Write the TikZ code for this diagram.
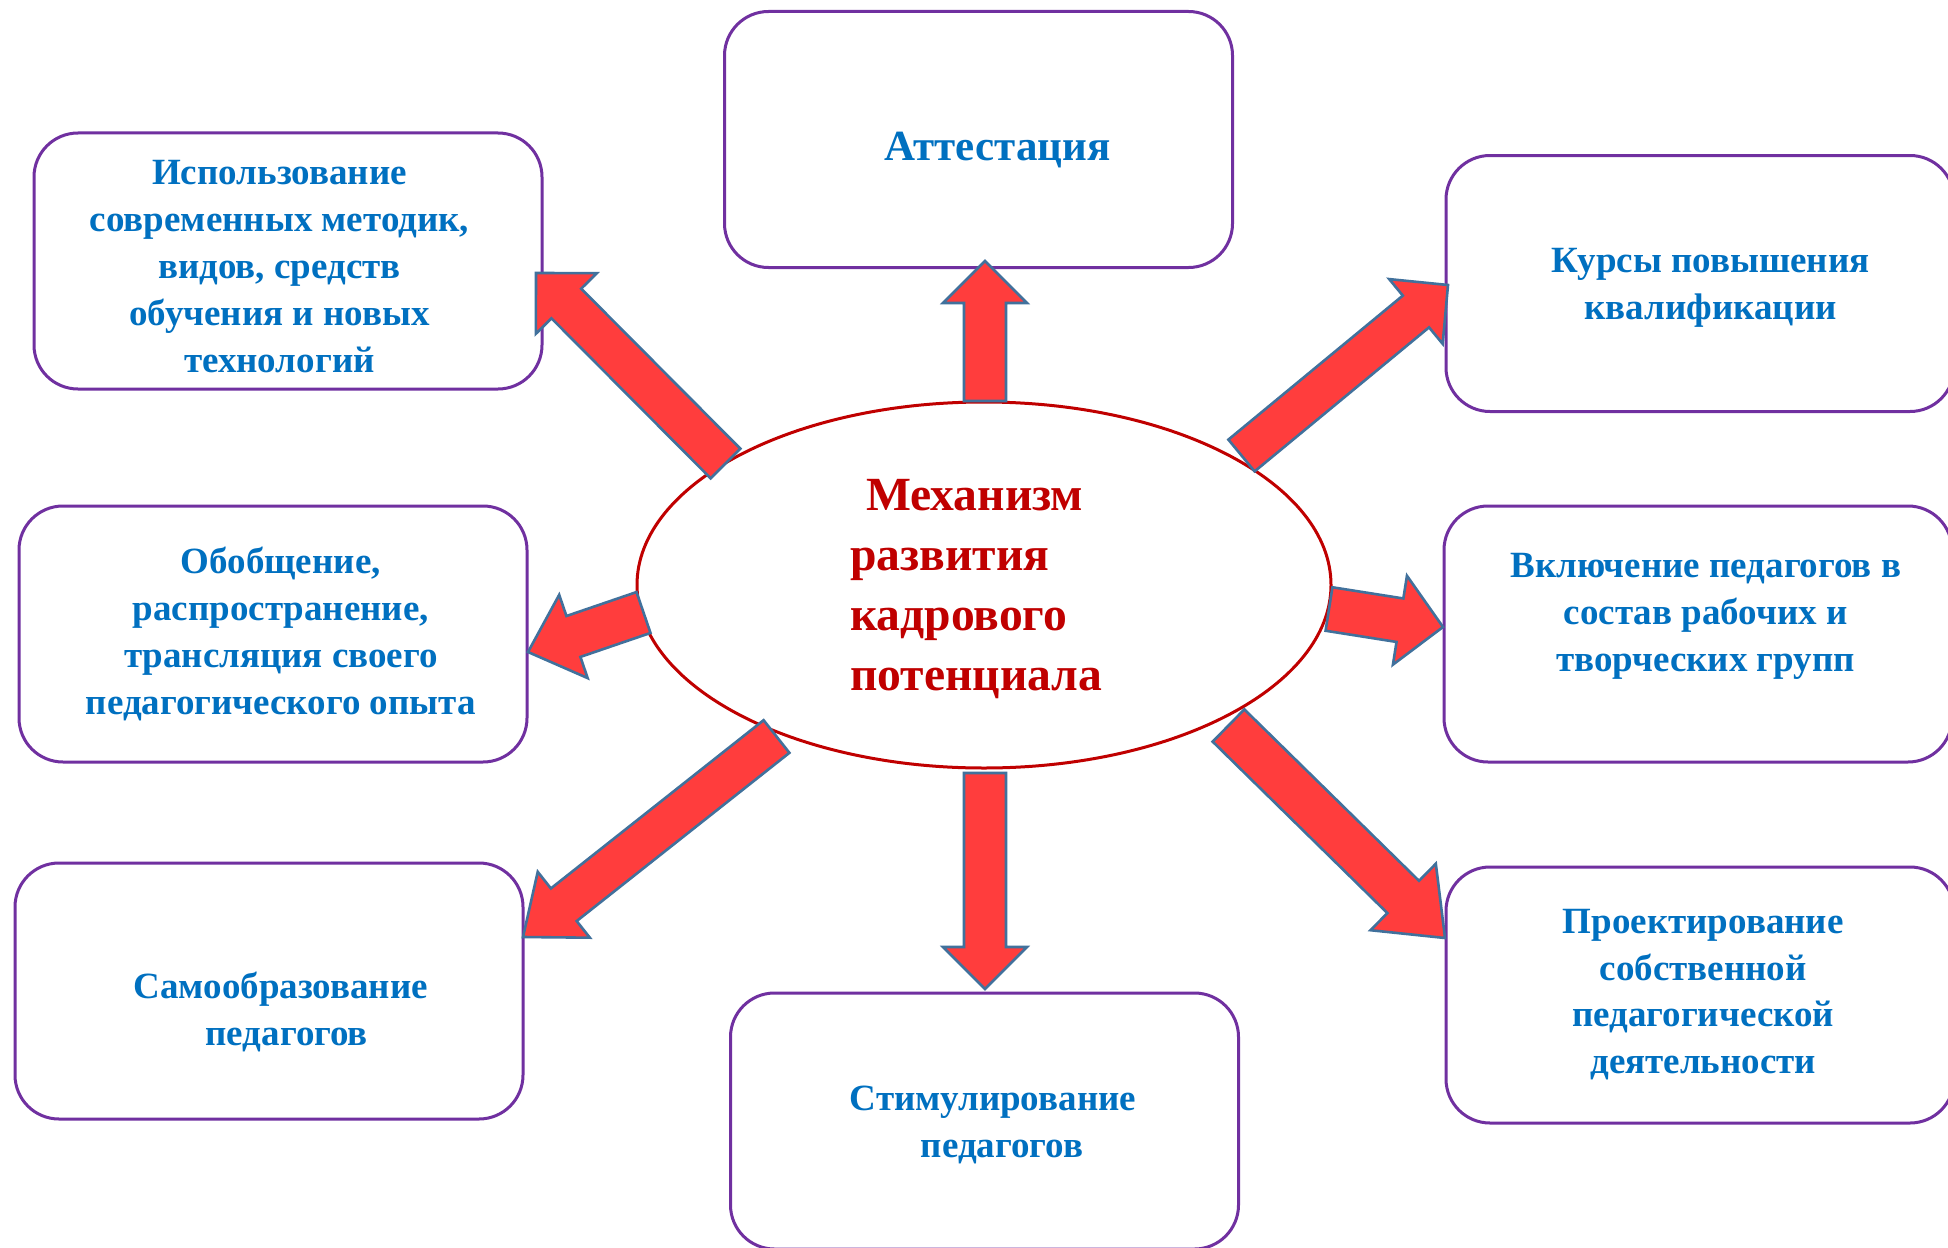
\documentclass[tikz,border=0pt]{standalone}
\usepackage{fontspec}
\setmainfont{Liberation Serif}
\usetikzlibrary{calc,shapes.geometric}
\definecolor{boxline}{HTML}{7030A0}
\definecolor{txtblue}{HTML}{0070C0}
\definecolor{txtred}{HTML}{C00000}
\definecolor{ellline}{HTML}{C00000}
\definecolor{arrfill}{HTML}{FF3D3D}
\definecolor{arrline}{HTML}{41719C}
\tikzset{
  box/.style={draw=boxline, line width=1.5pt, rounded corners=22pt, fill=white,
    minimum width=254pt, minimum height=128pt, inner sep=0pt},
  boxtext/.style={text=txtblue, font=\bfseries\fontsize{18.5pt}{23.4pt}\selectfont,
    align=center, inner sep=0pt},
  bigboxtext/.style={text=txtblue, font=\bfseries\fontsize{21.5pt}{25pt}\selectfont,
    align=center, inner sep=0pt},
  centertext/.style={text=txtred, font=\bfseries\fontsize{23.8pt}{30pt}\selectfont,
    align=left, inner sep=0pt, anchor=west},
  blockarrow/.style={fill=arrfill, draw=arrline, line width=1.3pt, line join=miter},
}
\newcommand{\blockarr}[5]{%
  \coordinate (hb) at ($(#2)!#5!(#1)$);
  \draw[blockarrow] ($(#1)!#3!90:(#2)$) -- ($(hb)!#3!90:(#2)$) -- ($(hb)!#4!90:(#2)$)
    -- (#2) -- ($(hb)!#4!-90:(#2)$) -- ($(hb)!#3!-90:(#2)$) -- ($(#1)!#3!-90:(#2)$) -- cycle;}
\begin{document}
\begin{tikzpicture}[x=0.5pt, y=-0.5pt]
\useasboundingbox (0,0) rectangle (1948,1247);
\clip (0,0) rectangle (1948,1247);
\fill[white] (0,0) rectangle (1948,1247);

% boxes
\node[box] (b1) at (978.5,139.5) {};
\node[box] (b2) at (288,261) {};
\node[box] (b3) at (1700,283.5) {};
\node[box] (b4) at (273,634) {};
\node[box] (b5) at (1698,634) {};
\node[box] (b6) at (269,991) {};
\node[box] (b7) at (984.5,1121) {};
\node[box] (b8) at (1700,995) {};

% central ellipse
\node[ellipse, draw=ellline, line width=1.5pt, fill=white, minimum width=347pt,
  minimum height=183pt, inner sep=0pt] (ell) at (984,585) {};

% texts
\node[bigboxtext] (t1) at (997.6,150) {Аттестация};
\node[boxtext] (t2) at (279.5,266.5) {Использование\\современных методик,\\видов, средств\\обучения и новых\\технологий};
\node[boxtext] (t3) at (1710.6,287.5) {Курсы повышения\\квалификации};
\node[boxtext] (t4) at (280.8,634) {Обобщение,\\распространение,\\трансляция своего\\педагогического опыта};
\node[boxtext] (t5) at (1705.7,616.5) {Включение педагогов в\\состав рабочих и\\творческих групп};
\node[boxtext] (t6) at (280.8,1012) {Самообразование\\\hspace*{6pt}педагогов};
\node[boxtext] (t7) at (993,1125) {Стимулирование\\\hspace*{9pt}педагогов};
\node[boxtext] (t8) at (1703.2,994.5) {Проектирование\\собственной\\педагогической\\деятельности};
\node[centertext] (tc) at (849.7,589.5) {\hspace*{8pt}Механизм\\развития\\кадрового\\потенциала};

% block arrows
\coordinate (aUb) at (985,401);    \coordinate (aUt) at (985,261);
\coordinate (aDb) at (985,773);    \coordinate (aDt) at (985,989);
\coordinate (aULb) at (725.5,463.5); \coordinate (aULt) at (536,273);
\coordinate (aURb) at (1241.5,455.5); \coordinate (aURt) at (1448,285);
\coordinate (aLb) at (643.5,612.5); \coordinate (aLt) at (528,652);
\coordinate (aRb) at (1329,609);   \coordinate (aRt) at (1443,627);
\coordinate (aDLb) at (776.5,736.5); \coordinate (aDLt) at (523,937);
\coordinate (aDRb) at (1228.5,725.5); \coordinate (aDRt) at (1445,938);

\blockarr{aUb}{aUt}{10.5pt}{21pt}{21pt}
\blockarr{aDb}{aDt}{10.5pt}{21pt}{21pt}
\blockarr{aULb}{aULt}{10.5pt}{21.5pt}{21.5pt}
\blockarr{aURb}{aURt}{10.3pt}{21pt}{20.8pt}
\blockarr{aLb}{aLt}{10.8pt}{22pt}{24pt}
\blockarr{aRb}{aRt}{11pt}{22.5pt}{21.8pt}
\blockarr{aDLb}{aDLt}{10.4pt}{21pt}{26pt}
\blockarr{aDRb}{aDRt}{11.3pt}{23.3pt}{29.3pt}
\end{tikzpicture}
\end{document}
